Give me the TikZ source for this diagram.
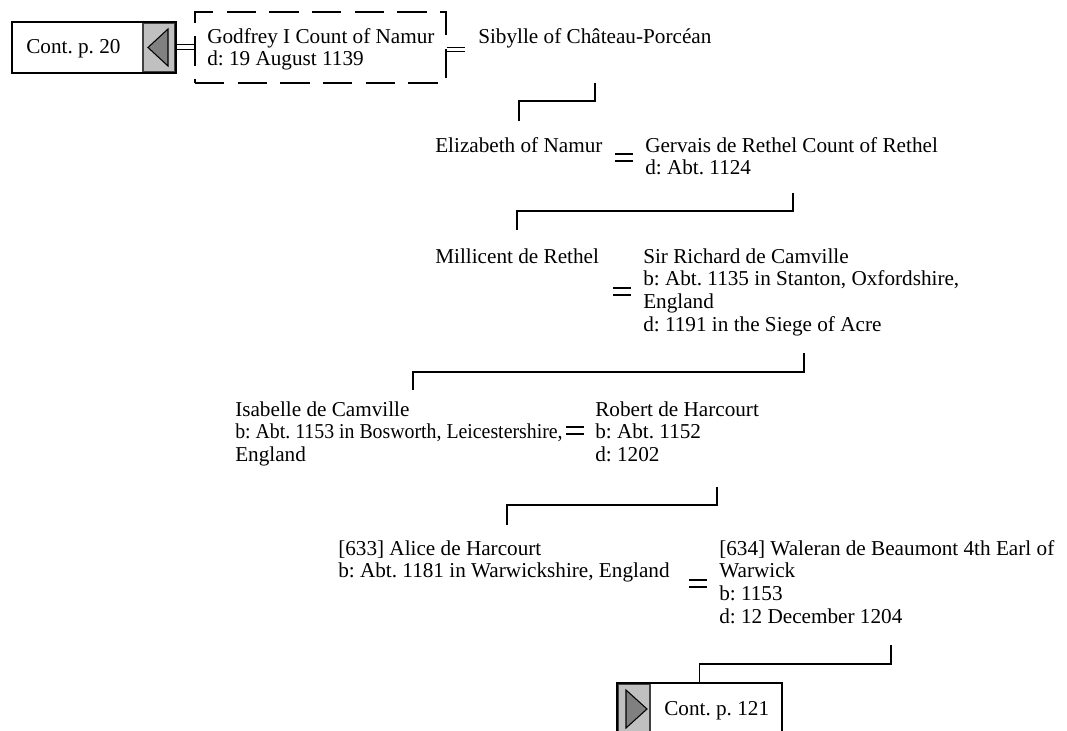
\documentclass[tikz,border=0pt]{standalone}
\usepackage{graphicx}
\usepackage{fontspec}
\setmainfont{Liberation Serif}
\usetikzlibrary{calc}
\definecolor{navlight}{HTML}{C0C0C0}
\definecolor{navmid}{HTML}{808080}
\definecolor{navdark}{HTML}{404040}
\newcommand\pst{\rule{0pt}{12pt}}
\frenchspacing
\begin{document}
\begin{tikzpicture}[x=0.75pt,y=-0.75pt,
  pfont/.style={font=\fontsize{15.9pt}{17pt}\selectfont\frenchspacing},
  person/.style={pfont, anchor=north west, inner sep=0pt, align=left},
  conn/.style={line width=1.4pt},
  marr/.style={line width=1.5pt},
  thinmarr/.style={line width=0.7pt},
  navbox/.style={draw, line width=1.5pt, inner sep=0pt, minimum width=123.5pt, minimum height=38.25pt},
  navgray/.style={fill=navlight, draw=navdark, line width=0.8pt},
  navtri/.style={fill=navmid, draw=black, line width=0.8pt},
  dashbox/.style={draw, line width=0.9pt, dash pattern=on 22pt off 10pt, inner sep=0pt, minimum width=188.25pt, minimum height=53.25pt}
]
\useasboundingbox (0,0) rectangle (1067,731);

% --- navigation box "Cont. p. 20"
\filldraw[navgray] (143,23) rectangle (175,72);
\filldraw[navtri] (148,47.5) -- (168,29) -- (168,66) -- cycle;
\node[navbox] (nav20) at (94,47.5) {};
\node[pfont, anchor=base west, inner sep=0pt] (nav20t) at (26,54) {Cont. p. 20};

% --- Godfrey (dashed) and Sibylle
\node[dashbox] (godbox) at (320.5,47.5) {};
\node[person] (godfrey) at (207,27) {\pst Godfrey I Count of Namur\\d: 19 August 1139};
\node[person] (sibylle) at (478,27) {\pst Sibylle of Ch\^ateau-Porc\'ean};

% --- generations
\node[person] (elizabeth) at (435,136) {\pst Elizabeth of Namur};
\node[person] (gervais) at (645,136) {\pst Gervais de Rethel Count of Rethel\\d: Abt. 1124};

\node[person] (millicent) at (435,247) {\pst Millicent de Rethel};
\node[person] (richard) at (643,247) {\pst Sir Richard de Camville\\b: Abt. 1135 in Stanton, Oxfordshire,\\England\\d: 1191 in the Siege of Acre};

\node[person] (isabelle) at (235,400) {\pst Isabelle de Camville\\\scalebox{0.935}[1]{b: Abt. 1153 in Bosworth, Leicestershire,}\\England};
\node[person] (robert) at (595,400) {\pst Robert de Harcourt\\b: Abt. 1152\\d: 1202};

\node[person] (alice) at (338,539) {\pst [633] Alice de Harcourt\\b: Abt. 1181 in Warwickshire, England};
\node[person] (waleran) at (719,539) {\pst [634] Waleran de Beaumont 4th Earl of\\Warwick\\b: 1153\\d: 12 December 1204};

% --- navigation box "Cont. p. 121"
\filldraw[navgray] (618,684) rectangle (650,740);
\filldraw[navtri] (626,690) -- (647,709) -- (626,728) -- cycle;
\node[navbox] (nav121) at (699.5,708.5) {};
\node[pfont, anchor=base west, inner sep=0pt] (nav121t) at (664,715) {Cont. p. 121};

% --- marriage signs
\coordinate (e1a) at (nav20.east |- 0,44.5); \coordinate (e1b) at (godbox.west |- 0,44.5);
\coordinate (e1c) at (nav20.east |- 0,49);   \coordinate (e1d) at (godbox.west |- 0,49);
\draw[thinmarr] (e1a) -- (e1b); \draw[thinmarr] (e1c) -- (e1d);
\coordinate (e2a) at (godbox.east |- 0,47); \coordinate (e2b) at (465,47);
\coordinate (e2c) at (godbox.east |- 0,51); \coordinate (e2d) at (465,51);
\draw[thinmarr] (e2a) -- (e2b); \draw[thinmarr] (e2c) -- (e2d);

\foreach \cx/\cy in {624/158, 622/291, 575/430, 697.5/583}{
  \draw[marr] (\cx-9,\cy-3.5) -- (\cx+9,\cy-3.5);
  \draw[marr] (\cx-9,\cy+3.5) -- (\cx+9,\cy+3.5);
}

% --- descent connectors
\coordinate (c1s) at (595,83);  \coordinate (c1m) at (519,101); \coordinate (c1e) at (519,121);
\draw[conn] (c1s) |- (c1m) -- (c1e);
\coordinate (c2s) at (793,193); \coordinate (c2m) at (517,211); \coordinate (c2e) at (517,230);
\draw[conn] (c2s) |- (c2m) -- (c2e);
\coordinate (c3s) at (804,353); \coordinate (c3m) at (413,372); \coordinate (c3e) at (413,390);
\draw[conn] (c3s) |- (c3m) -- (c3e);
\coordinate (c4s) at (717,487); \coordinate (c4m) at (507,505); \coordinate (c4e) at (507,525);
\draw[conn] (c4s) |- (c4m) -- (c4e);
\coordinate (c5s) at (891,645); \coordinate (c5m) at (699.5,664);
\draw[conn] (c5s) |- (c5m) -- (nav121.north);
\end{tikzpicture}
\end{document}
